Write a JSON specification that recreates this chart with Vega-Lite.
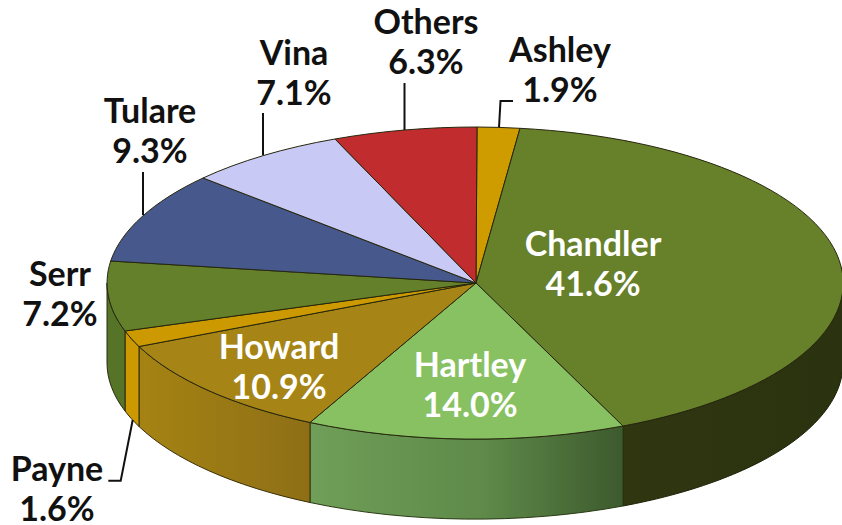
{
"$schema":"https://vega.github.io/schema/vega-lite/v6.json",
"width":842,"height":525,"padding":0,"autosize":"none","background":"white",
"config":{"view":{"stroke":null}},
"data":{"values":[
{"slice":"Ashley","share":1.9},{"slice":"Chandler","share":41.6},{"slice":"Hartley","share":14.0},{"slice":"Howard","share":10.9},{"slice":"Payne","share":1.6},{"slice":"Serr","share":7.2},{"slice":"Tulare","share":9.3},{"slice":"Vina","share":7.1},{"slice":"Others","share":6.3}]},
"transform":[{"calculate":"datum.slice + '\\n' + format(datum.share,'.1f') + '%'","as":"label"}],
"resolve":{"scale":{"shape":"independent","color":"independent"}},
"layer":[
{"transform":[{"filter":"datum.slice=='Chandler'"}],
 "mark":{"type":"point","filled":true,"size":4,"opacity":1,"strokeWidth":1,"stroke":"#1c2208","fill":{"gradient":"linear","x1":0,"x2":1,"y1":0,"y2":0,"stops":[{"offset":0,"color":"#2f3610"},{"offset":1,"color":"#2b320f"}]}},
 "encoding":{"shape":{"field":"slice","legend":null,"scale":{"domain":["Chandler"],"range":["M422 20.5 A368 156 0 0 1 202 163.5 L202 243.5 A368 156 0 0 0 422 100.5 Z"]}}}},
{"transform":[{"filter":"datum.slice=='Hartley'"}],
 "mark":{"type":"point","filled":true,"size":4,"opacity":1,"strokeWidth":1,"stroke":"#2a3a14","fill":{"gradient":"linear","x1":0,"x2":1,"y1":0,"y2":0,"stops":[{"offset":0,"color":"#6f9f58"},{"offset":0.55,"color":"#5f8a4a"},{"offset":1,"color":"#3d5a2d"}]}},
 "encoding":{"shape":{"field":"slice","legend":null,"scale":{"domain":["Hartley"],"range":["M202 163.5 A368 156 0 0 1 -111 160 L-111 240 A368 156 0 0 0 202 243.5 Z"]}}}},
{"transform":[{"filter":"datum.slice=='Howard'"}],
 "mark":{"type":"point","filled":true,"size":4,"opacity":1,"strokeWidth":1,"stroke":"#3a3008","fill":{"gradient":"linear","x1":0,"x2":1,"y1":0,"y2":0,"stops":[{"offset":0,"color":"#a58313"},{"offset":1,"color":"#8e6f16"}]}},
 "encoding":{"shape":{"field":"slice","legend":null,"scale":{"domain":["Howard"],"range":["M-111 160 A368 156 0 0 1 -282 84 L-282 164 A368 156 0 0 0 -111 240 Z"]}}}},
{"transform":[{"filter":"datum.slice=='Payne' || datum.slice=='Serr'"}],
 "mark":{"type":"point","filled":true,"size":4,"opacity":1,"strokeWidth":1,"stroke":"#2b2b10"},
 "encoding":{
  "color":{"field":"slice","legend":null,"scale":{"domain":["Payne","Serr"],"range":["#cc9900","#567428"]}},
  "shape":{"field":"slice","legend":null,"scale":{"domain":["Payne","Serr"],"range":["M-282 84 A368 156 0 0 1 -296 68.5 L-296 148.5 A368 156 0 0 0 -282 164 Z","M-296 68.5 A368 156 0 0 1 -314 20.5 L-314 100.5 A368 156 0 0 0 -296 148.5 Z"]}}}},
{"mark":{"type":"point","filled":true,"size":4,"opacity":1,"strokeWidth":1,"stroke":"#26260e"},
 "encoding":{
  "color":{"field":"slice","legend":null,"scale":{
   "domain":["Ashley","Chandler","Hartley","Howard","Payne","Serr","Tulare","Vina","Others"],
   "range":["#cf9c00","#67802a","#87c162","#a68415","#cc9900","#64802a","#47598c","#c9c9f5","#c12d2e"]}},
  "shape":{"field":"slice","legend":null,"scale":{
   "domain":["Ashley","Chandler","Hartley","Howard","Payne","Serr","Tulare","Vina","Others"],
   "range":[
   "M55 20.5 L56 -135.5 A368 156 0 0 1 99 -134.2 Z",
   "M55 20.5 L99 -134.2 A368 156 0 0 1 202 163.5 Z",
   "M55 20.5 L202 163.5 A368 156 0 0 1 -111 160 Z",
   "M55 20.5 L-111 160 A368 156 0 0 1 -282 84 Z",
   "M55 20.5 L-282 84 A368 156 0 0 1 -296 68.5 Z",
   "M55 20.5 L-296 68.5 A368 156 0 0 1 -310.3 -1.5 Z",
   "M55 20.5 L-310.3 -1.5 A368 156 0 0 1 -218 -84.5 Z",
   "M55 20.5 L-218 -84.5 A368 156 0 0 1 -86 -123.5 Z",
   "M55 20.5 L-86 -123.5 A368 156 0 0 1 56 -135.5 Z"]}}}},
{"transform":[{"filter":"indexof(['Ashley','Payne','Tulare','Vina','Others'],datum.slice)>=0"}],
 "mark":{"type":"point","filled":false,"size":4,"opacity":1,"strokeWidth":2,"stroke":"#111111","fill":null},
 "encoding":{"shape":{"field":"slice","legend":null,"scale":{
  "domain":["Ashley","Payne","Tulare","Vina","Others"],
  "range":["M92 -161.5 L79.5 -161.5 L78 -135","M-288.3 157.5 L-300.3 218.2 L-312.7 218.2","M-278 -90.5 L-278 -47.5","M-158 -149.5 L-158 -107.5","M-16.5 -179.5 L-16.5 -132.5"]}}}},
{"mark":{"type":"text","font":"Lato","fontWeight":"bold","fontSize":34,"align":"center","baseline":"middle","lineBreak":"\n","lineHeight":40,
  "dx":{"expr":"{Others:5,Ashley:139,Vina:-127,Tulare:-271,Serr:-361,Payne:-364,Chandler:172,Hartley:49,Howard:-142}[datum.slice]"},
  "dy":{"expr":"{Others:-238.5,Ashley:-211,Vina:-208,Tulare:-149.5,Serr:13.5,Payne:208,Chandler:-17,Hartley:104.5,Howard:86}[datum.slice]"}},
 "encoding":{"text":{"field":"label"},
  "color":{"condition":{"test":"indexof(['Chandler','Hartley','Howard'],datum.slice)>=0","value":"#ffffff"},"value":"#111111"}}}
]}
